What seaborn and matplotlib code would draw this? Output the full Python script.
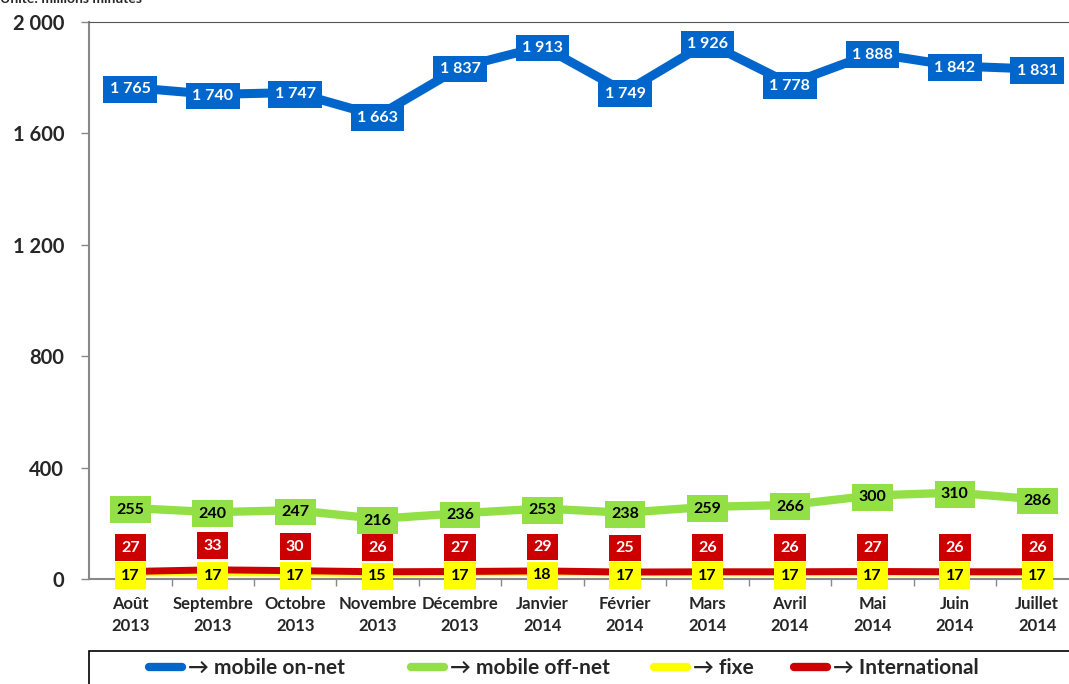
import pandas as pd
import seaborn as sns
import matplotlib.pyplot as plt
import matplotlib.patches as mpatches
from matplotlib.lines import Line2D
from matplotlib.ticker import FixedLocator

sns.set_style("white")
plt.rcParams['font.family'] = ['Lato', 'DejaVu Sans']
plt.rcParams['font.weight'] = 'bold'

months = ["Août\n2013", "Septembre\n2013", "Octobre\n2013", "Novembre\n2013", "Décembre\n2013",
          "Janvier\n2014", "Février\n2014", "Mars\n2014", "Avril\n2014", "Mai\n2014",
          "Juin\n2014", "Juillet\n2014"]
on_net = [1765, 1740, 1747, 1663, 1837, 1913, 1749, 1926, 1778, 1888, 1842, 1831]
off_net = [255, 240, 247, 216, 236, 253, 238, 259, 266, 300, 310, 286]
fixe = [17, 17, 17, 15, 17, 18, 17, 17, 17, 17, 17, 17]
international = [27, 33, 30, 26, 27, 29, 25, 26, 26, 27, 26, 26]

series = ["mobile on-net", "mobile off-net", "fixe", "International"]
colors = {"mobile on-net": "#0066CC", "mobile off-net": "#92E046",
          "fixe": "#FFFF00", "International": "#CC0000"}
widths = {"mobile on-net": 6.5, "mobile off-net": 6, "fixe": 3, "International": 5}
text_colors = {"mobile on-net": "white", "mobile off-net": "black",
               "fixe": "black", "International": "white"}

df = pd.concat([
    pd.DataFrame({"idx": range(len(months)), "value": vals, "serie": name})
    for name, vals in zip(series, [on_net, off_net, fixe, international])
])


def fmt(v):
    return '{:,.0f}'.format(v).replace(',', ' ')


fig = plt.figure(figsize=(10.69, 6.84), dpi=100)
ax = fig.add_axes([0.0833, 0.1535, 0.9256, 0.8143])

# fixe line sits under the international line
for name in series:
    sub = df[df.serie == name]
    sns.lineplot(data=sub, x="idx", y="value", color=colors[name], linewidth=widths[name],
                 ax=ax, legend=False, solid_capstyle='butt',
                 zorder=3 if name != "fixe" else 2)

ax.set_xlim(-0.5, len(months) - 0.5)
ax.set_ylim(0, 2000)
yticks = [0, 400, 800, 1200, 1600, 2000]
ax.set_yticks(yticks)
ax.set_yticklabels([fmt(v) for v in yticks], fontsize=14.5, fontweight='bold')
ax.set_xticks(range(len(months)))
ax.set_xticklabels(months, fontsize=12, fontweight='bold', linespacing=1.45)
ax.xaxis.set_minor_locator(FixedLocator([i + 0.5 for i in range(len(months) - 1)]))
ax.tick_params(axis='x', which='major', length=0, pad=12)
ax.tick_params(axis='x', which='minor', length=5, color='#888888', width=1, direction='out', bottom=True)
ax.tick_params(axis='y', length=6, color='#888888', width=1, direction='out', left=True, pad=12)
ax.set_xlabel("")
ax.set_ylabel("")
for side in ["left", "bottom"]:
    ax.spines[side].set_color('#888888')
    ax.spines[side].set_linewidth(1.5)
ax.spines["top"].set_color('#555555')
ax.spines["right"].set_visible(False)

label_offsets = {"mobile on-net": -6, "mobile off-net": -6, "fixe": -5, "International": 86}
for name, vals in zip(series, [on_net, off_net, fixe, international]):
    for i, v in enumerate(vals):
        ax.text(i, v + label_offsets[name], fmt(v), ha='center', va='center', fontsize=11.5,
                fontweight='bold', color=text_colors[name], zorder=5,
                bbox=dict(boxstyle='square,pad=0.4', lw=0, fc=colors[name]))

fig.text(0.0, 0.996, "Unité: millions minutes", fontsize=10, fontweight='bold', va='baseline')

# legend box at the bottom, one entry per series at its own place
legend_x = [149, 411, 654, 794]
for name, x in zip(series, legend_x):
    h = Line2D([0], [0], color=colors[name], lw=6, solid_capstyle='round')
    fig.legend([h], ["\u2192 " + name], loc='upper left',
               bbox_to_anchor=(x / 1069, 1 - 658 / 684),
               frameon=False, prop={'weight': 'bold', 'size': 15},
               handlelength=1.6, handletextpad=0.25, borderaxespad=0, borderpad=0)
fig.patches.append(mpatches.Rectangle((89 / 1069, -0.05), 1.0, 1 - 651 / 684 + 0.05,
                                      transform=fig.transFigure, fill=False, lw=1.2,
                                      edgecolor='black'))

fig.savefig("out.png", dpi=100)
